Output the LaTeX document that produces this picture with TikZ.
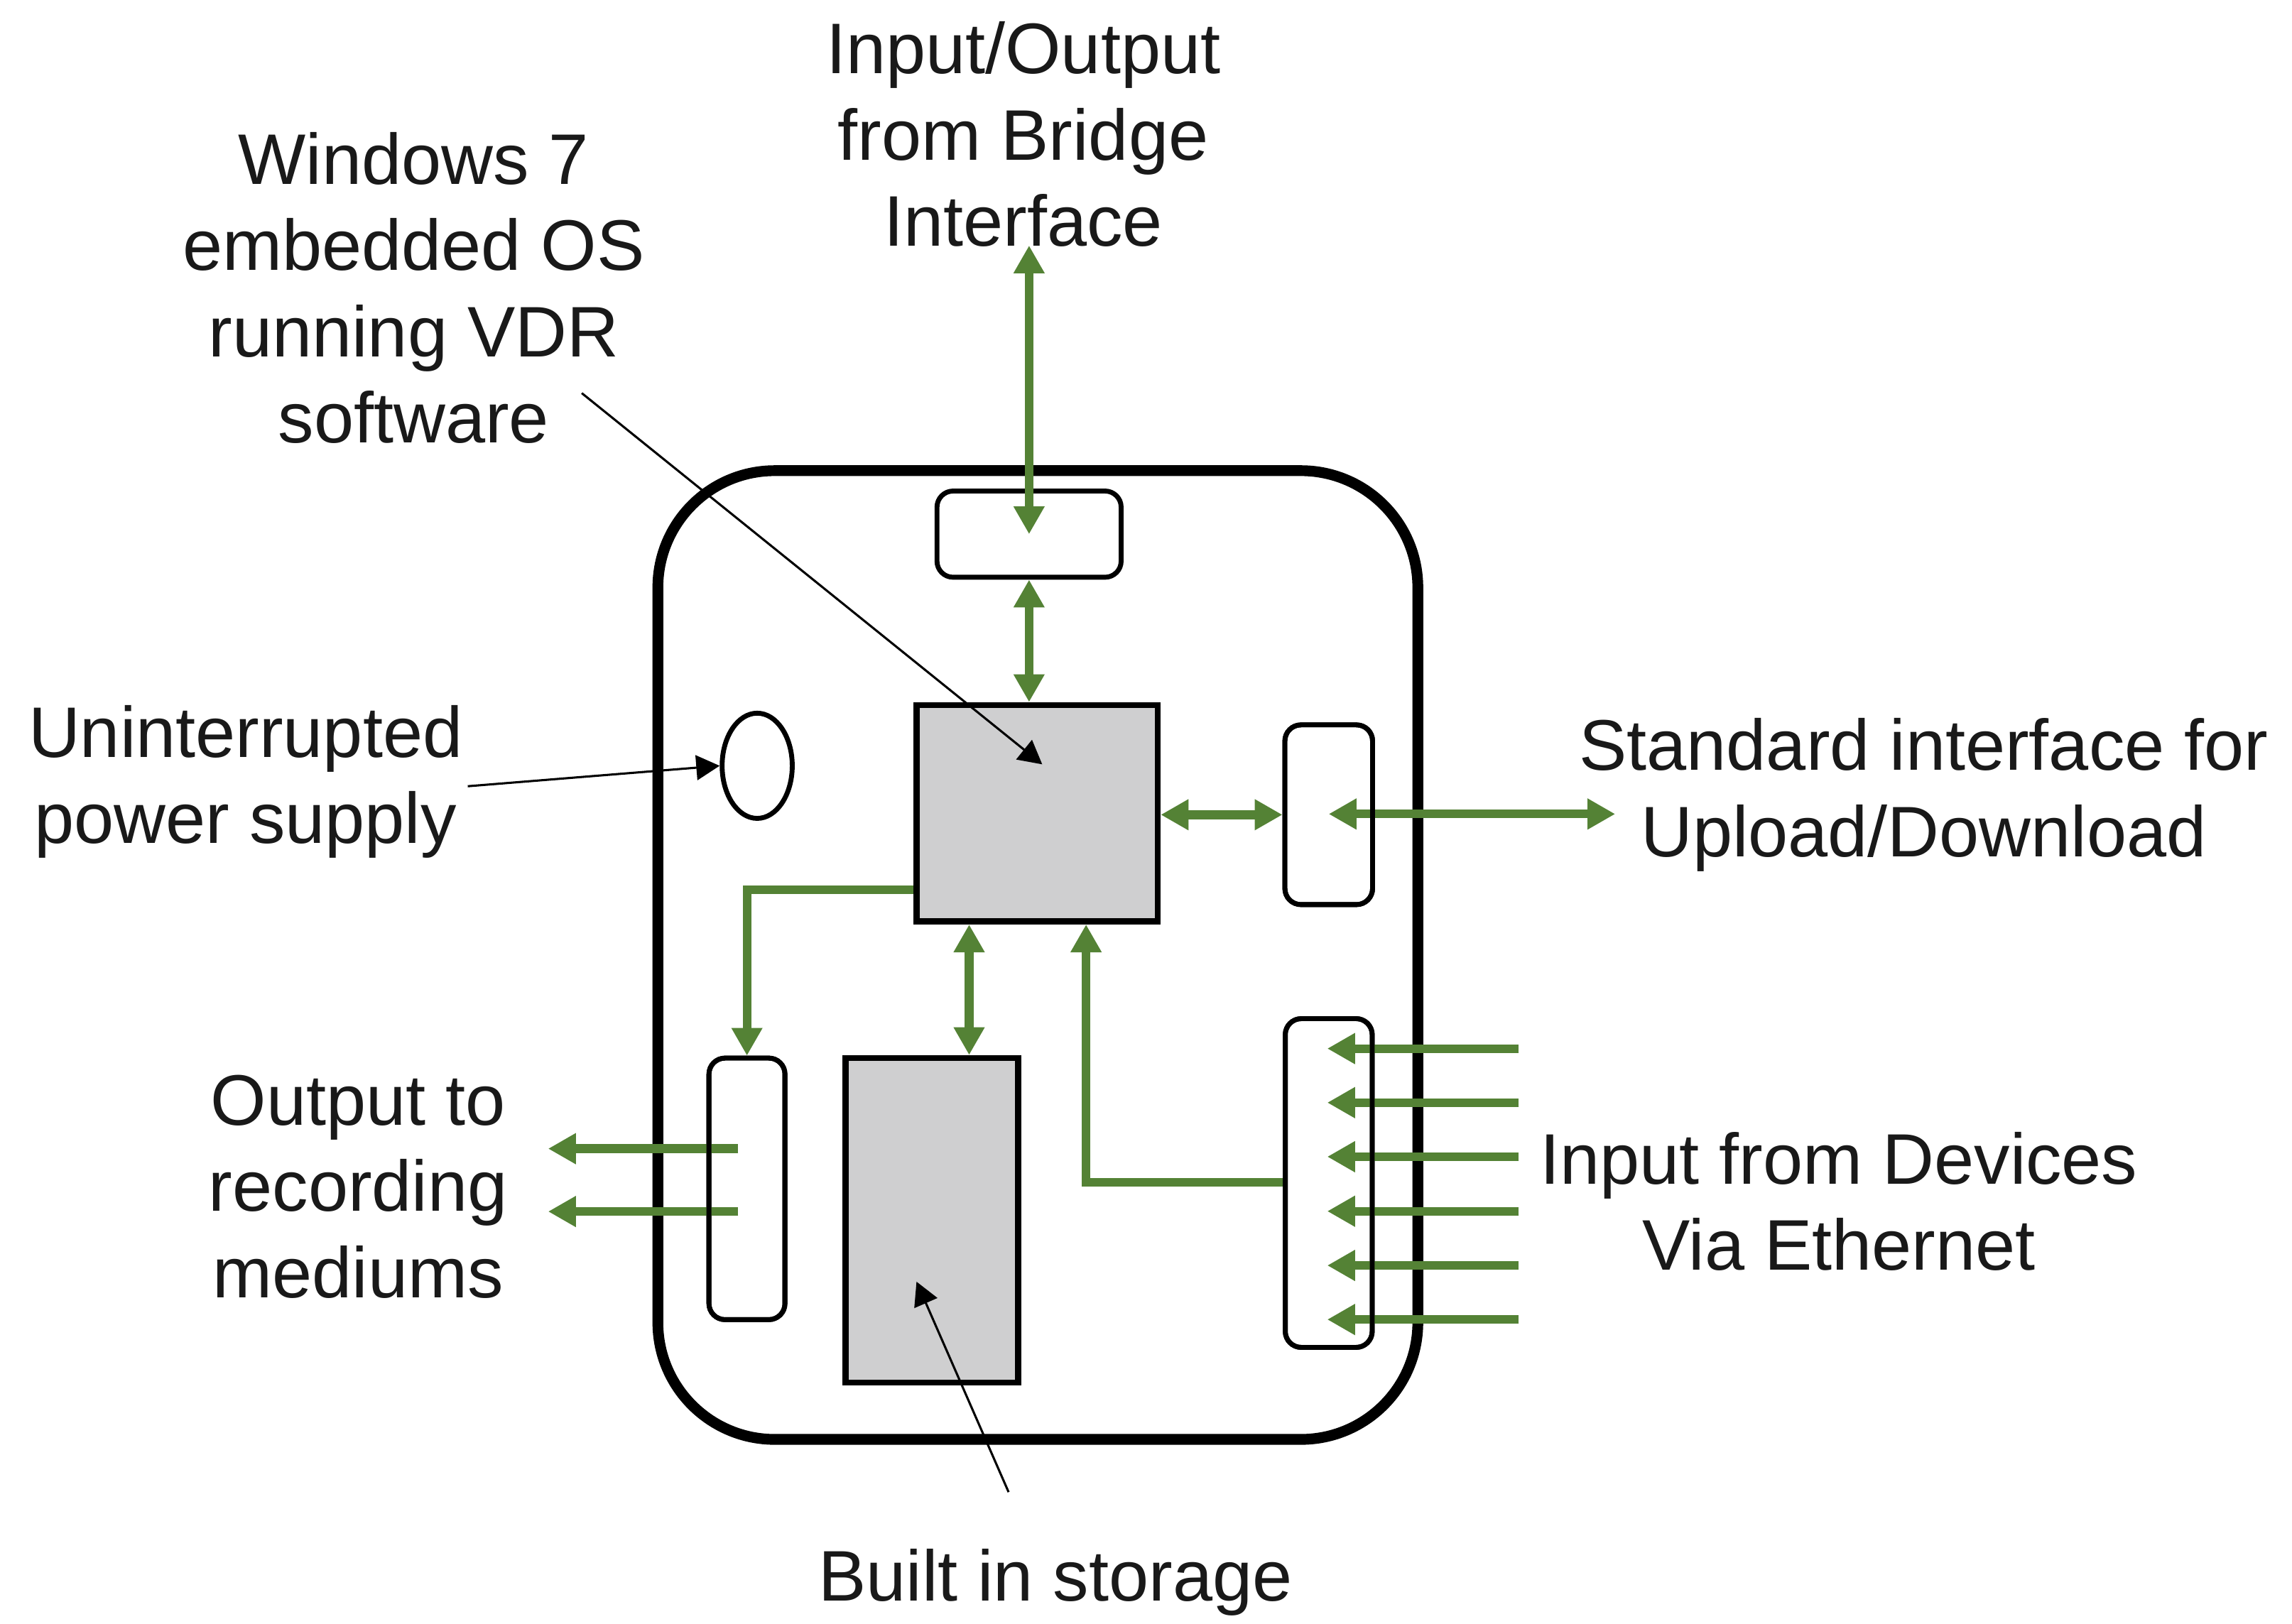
\documentclass[tikz,border=0pt]{standalone}
\usepackage{fontspec}
\setmainfont{Liberation Sans}
\usetikzlibrary{arrows.meta,shapes.geometric,calc}
\definecolor{grn}{RGB}{84,130,53}
\definecolor{boxgray}{RGB}{207,207,208}
\begin{document}
\begin{tikzpicture}[x=0.02cm,y=-0.02cm,
  gline/.style={draw=grn, line width=3.4pt},
  gtip/.tip={Triangle[width=0.4cm,length=0.38cm]},
  garr/.style={gline, -gtip},
  gdbl/.style={gline, gtip-gtip},
  ptr/.style={draw=black, line width=0.85pt, -{Triangle[width=0.34cm,length=0.32cm]}},
  lbl/.style={font=\fontsize{27.9}{33.6}\selectfont, align=center, inner sep=0pt, text=black!90},
  smallbox/.style={draw=black, line width=1.9pt, rounded corners=0.22cm, inner sep=0pt},
  graybox/.style={draw=black, line width=2.4pt, fill=boxgray, inner sep=0pt},
  outerbox/.style={draw=black, line width=4.2pt, rounded corners=1.6cm, inner sep=0pt}
]
\useasboundingbox (0,0) rectangle (1568,1111);
\fill[white] (0,0) rectangle (1568,1111);

% outer housing
\node[outerbox, minimum width=10.4cm, minimum height=13.26cm] (outer) at (710,653.5) {};

% inner components (positions)
\node[smallbox, minimum width=2.52cm, minimum height=1.18cm] (bridge) at (704,365.5) {};
\node[graybox, minimum width=3.3cm, minimum height=2.96cm] (cpu) at (709.5,556.5) {};
\node[draw=black, line width=1.9pt, ellipse, minimum width=0.96cm, minimum height=1.44cm, inner sep=0pt] (ups) at (518,524) {};
\node[smallbox, minimum width=1.2cm, minimum height=2.46cm] (std) at (909,557.5) {};
\node[smallbox, minimum width=1.04cm, minimum height=3.58cm] (outbox) at (511,813.5) {};
\node[graybox, minimum width=2.36cm, minimum height=4.44cm] (storage) at (637.5,835) {};
\node[smallbox, minimum width=1.19cm, minimum height=4.5cm] (devbox) at (909,809.5) {};

% free ends
\coordinate (iotop) at (704,168);
\coordinate (stdend) at (1105,557);
\coordinate (o1) at (375,786);
\coordinate (o2) at (375,829);

% green connectors
\draw[gdbl] (iotop) -- (bridge.center);
\draw[gdbl] (bridge.south) -- (cpu.north -| bridge.south);
\draw[gdbl] (cpu.east |- std.west) -- (std.west);
\draw[gdbl] (std.center |- stdend) -- (stdend);
\draw[garr] (cpu.west |- 0,609) -| (outbox.north);
\draw[gdbl] (cpu.south -| 663,0) -- (storage.north -| 663,0);
\draw[garr] (devbox.west |- 0,809) -| (cpu.south -| 743,0);
\draw[garr] ($(outbox.center |- o1)+(-6,0)$) -- (o1);
\draw[garr] ($(outbox.center |- o2)+(-6,0)$) -- (o2);
\foreach \yy [count=\i] in {717.5,754.5,791.5,828.8,865.9,902.9} {
  \coordinate (d\i) at (1039,\yy);
  \draw[garr] (d\i) -- (908,\yy);
}

% redraw box outlines over the green lines
\node[smallbox, minimum width=1.2cm, minimum height=2.46cm] at (std) {};
\node[smallbox, minimum width=1.04cm, minimum height=3.58cm] at (outbox) {};
\node[smallbox, minimum width=1.19cm, minimum height=4.5cm] at (devbox) {};

% labels
\node[lbl] (iolbl) at (700,92) {Input/Output\\from Bridge\\Interface};
\node[lbl] (winlbl) at (283,197) {Windows 7\\embedded OS\\running VDR\\software};
\node[lbl] (upslbl) at (168,535) {Uninterrupted\\power supply};
\node[lbl] (stdlbl) at (1316,544) {Standard interface for\\Upload/Download};
\node[lbl] (outlbl) at (245,812) {Output to\\recording\\mediums};
\node[lbl] (devlbl) at (1258,822) {Input from Devices\\Via Ethernet};
\node[lbl] (storlbl) at (722,1083) {Built in storage};

% pointer lines
\coordinate (winfrom) at (398,269);
\coordinate (wintip) at (713,523);
\coordinate (upsfrom) at (320,538);
\coordinate (storfrom) at (690,1021);
\coordinate (stortip) at (627,877);
\draw[ptr] (winfrom) -- (wintip);
\draw[ptr] (upsfrom) -- (ups.west);
\draw[ptr] (storfrom) -- (stortip);
\end{tikzpicture}
\end{document}
